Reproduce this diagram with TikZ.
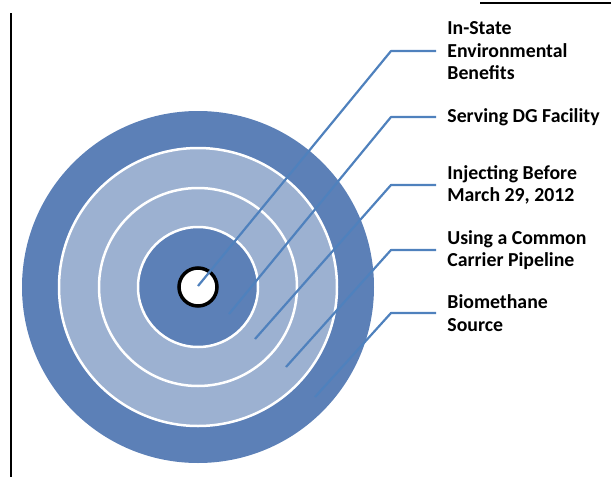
\documentclass[tikz,border=0pt]{standalone}
\usepackage{fontspec}
\setmainfont{Carlito}
\usetikzlibrary{positioning}

\definecolor{ringdark}{RGB}{92,128,183}
\definecolor{ringlight}{RGB}{156,177,209}
\definecolor{leadblue}{RGB}{79,129,189}

\begin{document}
\begin{tikzpicture}[x=1pt,y=-1pt,thick,
  ring/.style={draw=white,line width=2.5pt},
  label node/.style={anchor=west,align=left,inner sep=0pt,
  font=\fontsize{19.8}{22.5}\selectfont\bfseries},
  leader/.style={draw=leadblue,line width=2.2pt,line join=round,shorten >=11pt}]

  \useasboundingbox (0,0) rectangle (611,477);

  %Frame lines of the page
  \draw[black,line width=1.4pt] (11,13) -- (11,477);
  \draw[black,line width=1.4pt] (480,3) -- (611,3);

  %Target rings, outside in
  \coordinate (O) at (198,287);
  \fill[ringdark] (O) circle[radius=176pt];
  \filldraw[ring,fill=ringlight] (O) circle[radius=139pt];
  \filldraw[ring,fill=ringlight] (O) circle[radius=99pt];
  \filldraw[ring,fill=ringdark] (O) circle[radius=60pt];
  \filldraw[draw=black,fill=white,line width=3.5pt] (O) circle[radius=19pt];

  \node[label node] (ISE) at (447,51) {In-State\\Environmental\\Benefits};
  \node[label node] (DG) at (447,117) {Serving DG Facility};
  \node[label node] (IB) at (447,185) {Injecting Before\\March 29, 2012};
  \node[label node] (CCP) at (447,250) {Using a Common\\Carrier Pipeline};
  \node[label node] (BS) at (447,313) {Biomethane\\Source};

  %Ends of the leaders inside the rings
  \coordinate (p1) at (198,286);
  \coordinate (p2) at (229,314);
  \coordinate (p3) at (255,339);
  \coordinate (p4) at (286,367);
  \coordinate (p5) at (315,397);

  %Shows the centre taken by the innermost label
  \draw[leader] (p1) -- (391,51) -- (ISE.west);
  \draw[leader] (p2) -- (391,117) -- (DG.west);
  \draw[leader] (p3) -- (391,185) -- (IB.west);
  \draw[leader] (p4) -- (391,250) -- (CCP.west);
  %Outer ring is the source
  \draw[leader] (p5) -- (391,313) -- (BS.west);

\end{tikzpicture}
\end{document}
